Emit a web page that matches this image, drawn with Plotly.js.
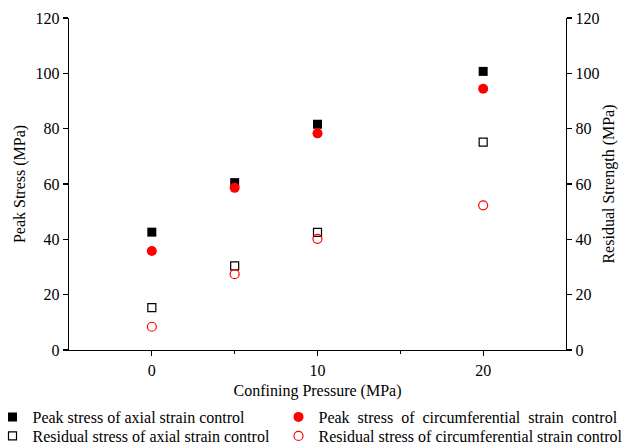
<!DOCTYPE html>
<html><head><meta charset="utf-8">
<script src="https://cdn.plot.ly/plotly-3.0.1.min.js"></script>
<style>body{margin:0;padding:0;background:#fff}#chart{width:638px;height:444px}</style>
</head><body><div id="chart"></div>
<script>
const confining = [0, 5, 10, 20];
const peakAxial = [42.6, 60.5, 81.6, 100.7];
const peakCirc = [35.8, 58.6, 78.3, 94.4];
const residualAxial = [15.3, 30.4, 42.5, 75.1];
const residualCirc = [8.4, 27.4, 40.2, 52.3];
const xTicks = [0, 10, 20];
const yTicks = [0, 20, 40, 60, 80, 100, 120];
const seriesNames = [
  "Peak stress of axial strain control",
  "Peak stress of circumferential strain control",
  "Residual stress of axial strain control",
  "Residual stress of circumferential strain control"
];

const FONT = "Liberation Serif, Times New Roman, serif";
const FS = 16;
// the reference justifies the second column's first entry: widen its word gaps
const justified = s => s.split(" ").join(" \u00a0");
const traces = [
  {x: confining, y: peakAxial, name: seriesNames[0], mode: "markers", type: "scatter", legend: "legend",
   marker: {symbol: "square", size: 9, color: "#000"}},
  {x: confining, y: peakCirc, name: justified(seriesNames[1]), mode: "markers", type: "scatter", legend: "legend2",
   marker: {symbol: "circle", size: 10, color: "#ff0000"}},
  {x: confining, y: residualAxial, name: seriesNames[2], mode: "markers", type: "scatter", yaxis: "y2", legend: "legend3",
   marker: {symbol: "square-open", size: 8, color: "#000", line: {width: 1.2}}},
  {x: confining, y: residualCirc, name: seriesNames[3], mode: "markers", type: "scatter", yaxis: "y2", legend: "legend4",
   marker: {symbol: "circle-open", size: 9, color: "#ff0000", line: {width: 1.2}}}
];
const axisCommon = {showgrid: false, zeroline: false, showline: true, linecolor: "#000", linewidth: 1.3,
  ticks: "outside", ticklen: 5, tickwidth: 1.3, tickcolor: "#000", tickfont: {family: FONT, size: FS, color: "#000"}};
// legend positions in paper coordinates (plot area: x 69..566, y 18..350)
function leg(px, py) {
  return {x: (px - 69) / 497, y: (350 - py) / 332, xanchor: "left", yanchor: "middle",
    font: {family: FONT, size: FS, color: "#000"}, bgcolor: "rgba(0,0,0,0)", borderwidth: 0};
}
const layout = {
  width: 638, height: 444,
  margin: {l: 69, r: 72, t: 18, b: 94, autoexpand: false},
  paper_bgcolor: "#fff", plot_bgcolor: "#fff",
  font: {family: FONT, color: "#000"},
  xaxis: Object.assign({}, axisCommon, {range: [-5, 25], tickvals: xTicks, ticktext: xTicks.map(String),
    minor: {tickvals: [5, 15], ticks: "outside", ticklen: 3, tickwidth: 1.3, tickcolor: "#000"},
    title: {text: "Confining Pressure (MPa)", font: {family: FONT, size: FS}, standoff: 7}}),
  yaxis: Object.assign({}, axisCommon, {range: [0, 120], tickvals: yTicks,
    title: {text: "Peak Stress (MPa)", font: {family: FONT, size: FS}, standoff: 6}}),
  yaxis2: Object.assign({}, axisCommon, {range: [0, 120], tickvals: yTicks, overlaying: "y", side: "right",
    title: {text: "Residual Strength (MPa)", font: {family: FONT, size: FS}, standoff: 4}}),
  showlegend: true,
  legend: leg(-7.5, 417),
  legend2: leg(278.5, 417),
  legend3: leg(-7.5, 436),
  legend4: leg(278.5, 436)
};
Plotly.newPlot("chart", traces, layout, {displayModeBar: false, staticPlot: true});
</script></body></html>
